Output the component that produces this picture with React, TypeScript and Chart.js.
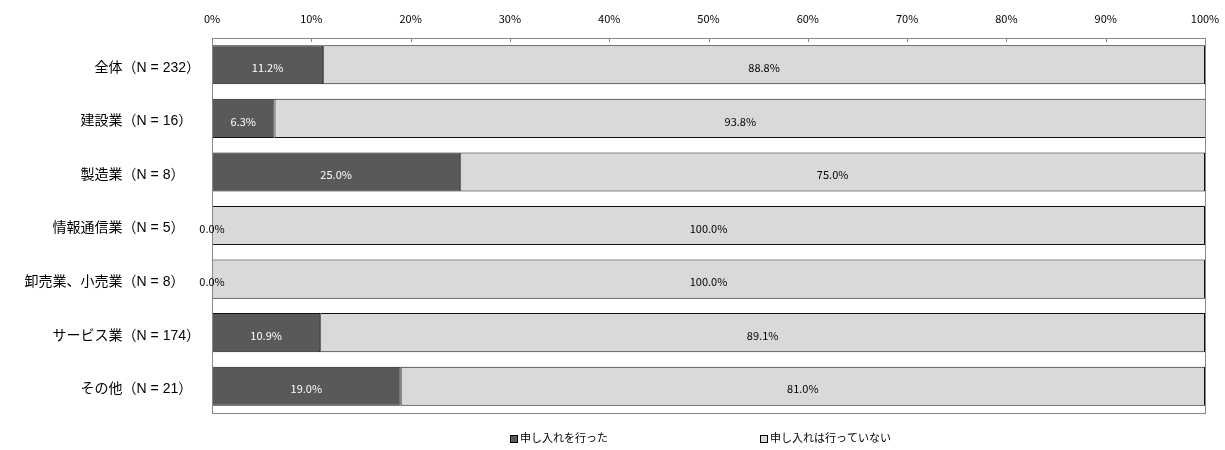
import { useEffect, useRef } from "react";
import { Chart, registerables } from "chart.js";

Chart.register(...registerables);

// Survey breakdown by industry
const industries = ["全体", "建設業", "製造業", "情報通信業", "卸売業、小売業", "サービス業", "その他"];
const sampleSizes = [232, 16, 8, 5, 8, 174, 21];
const requested = [11.2, 6.3, 25.0, 0.0, 0.0, 10.9, 19.0];
const notRequested = [88.8, 93.8, 75.0, 100.0, 100.0, 89.1, 81.0];
const seriesNames = ["申し入れを行った", "申し入れは行っていない"];
const seriesColors = ["#595959", "#d9d9d9"];

const FONT = "'Noto Sans CJK JP', 'Noto Sans', sans-serif";
const LABEL_FONT = "'Liberation Sans', 'Noto Sans CJK JP', sans-serif";

// Category labels; a figure space keeps the short counts in line with the long ones
const categoryLabels = industries.map((name, i) => {
  const n = String(sampleSizes[i]);
  return `${name}（N = ${n}）` + "\u2007".repeat(3 - n.length);
});

const framePlugin = {
  id: "frame",
  afterDatasetsDraw(chart: any) {
    const { ctx, chartArea } = chart;
    const xs = chart.scales.x;
    ctx.save();
    ctx.strokeStyle = "#888888";
    ctx.lineWidth = 1;
    ctx.strokeRect(
      Math.round(chartArea.left) + 0.5,
      Math.round(chartArea.top) + 0.5,
      Math.round(chartArea.right - chartArea.left),
      Math.round(chartArea.bottom - chartArea.top)
    );
    // inward tick marks along the top edge
    xs.ticks.forEach((t: any) => {
      const px = Math.round(xs.getPixelForValue(t.value)) + 0.5;
      ctx.beginPath();
      ctx.moveTo(px, chartArea.top);
      ctx.lineTo(px, chartArea.top + 4);
      ctx.stroke();
    });
    ctx.restore();
  },
};

const valueLabelPlugin = {
  id: "valueLabels",
  afterDatasetsDraw(chart: any) {
    const { ctx } = chart;
    ctx.save();
    ctx.font = `11px ${FONT}`;
    ctx.textAlign = "center";
    ctx.textBaseline = "middle";
    chart.data.datasets.forEach((ds: any, di: number) => {
      const meta = chart.getDatasetMeta(di);
      meta.data.forEach((bar: any, i: number) => {
        const v = ds.data[i] as number;
        const c = bar.getCenterPoint();
        ctx.fillStyle = di === 0 && v > 0 ? "#ffffff" : "#000000";
        ctx.fillText(v.toFixed(1) + "%", c.x, c.y + 3);
      });
    });
    ctx.restore();
  },
};

const legendPlugin = {
  id: "bottomLegend",
  afterDraw(chart: any) {
    const { ctx } = chart;
    const xPositions = [510, 760];
    const y = 439;
    ctx.save();
    ctx.font = `11px ${LABEL_FONT}`;
    ctx.textBaseline = "middle";
    ctx.textAlign = "left";
    chart.data.datasets.forEach((ds: any, i: number) => {
      const x = xPositions[i];
      ctx.fillStyle = ds.backgroundColor;
      ctx.fillRect(x, y - 4, 8, 8);
      ctx.strokeStyle = "#000000";
      ctx.lineWidth = 1;
      ctx.strokeRect(x + 0.5, y - 3.5, 7, 7);
      ctx.fillStyle = "#000000";
      ctx.fillText(ds.label, x + 10, y);
    });
    ctx.restore();
  },
};

export default function App() {
  const canvasRef = useRef<HTMLCanvasElement | null>(null);

  useEffect(() => {
    document.body.style.margin = "0";
    const canvas = canvasRef.current;
    if (!canvas) return;
    const chart = new Chart(canvas, {
      type: "bar",
      data: {
        labels: categoryLabels,
        datasets: [
          {
            label: seriesNames[0],
            data: requested,
            backgroundColor: seriesColors[0],
            borderColor: "#111111",
            borderWidth: 1,
            borderSkipped: false,
          },
          {
            label: seriesNames[1],
            data: notRequested,
            backgroundColor: seriesColors[1],
            borderColor: "#111111",
            borderWidth: 1,
            borderSkipped: false,
          },
        ],
      },
      options: {
        indexAxis: "y",
        responsive: false,
        animation: false,
        events: [],
        layout: { padding: { left: 0, right: 20, top: 0, bottom: 37 } },
        datasets: { bar: { barPercentage: 0.73, categoryPercentage: 1 } },
        plugins: {
          legend: { display: false },
          tooltip: { enabled: false },
        },
        scales: {
          x: {
            position: "top",
            stacked: true,
            min: 0,
            max: 100,
            grid: { display: false, drawTicks: false },
            border: { display: false },
            ticks: {
              stepSize: 10,
              padding: 13,
              color: "#000000",
              font: { family: FONT, size: 11 },
              callback: (v: any) => `${v}%`,
            },
            afterFit: (scale: any) => {
              scale.height = 38;
              scale.paddingLeft = 0;
              scale.paddingRight = 0;
            },
          },
          y: {
            stacked: true,
            grid: { display: false, drawTicks: false },
            border: { display: false },
            ticks: {
              padding: 12,
              labelOffset: 3,
              color: "#000000",
              font: { family: LABEL_FONT, size: 14 },
            },
            afterFit: (scale: any) => {
              scale.width = 212;
            },
          },
        },
      },
      plugins: [framePlugin, valueLabelPlugin, legendPlugin],
    });
    return () => chart.destroy();
  }, []);

  return (
    <div style={{ width: 1225, height: 450, background: "#ffffff" }}>
      <canvas ref={canvasRef} width={1225} height={450} />
    </div>
  );
}
